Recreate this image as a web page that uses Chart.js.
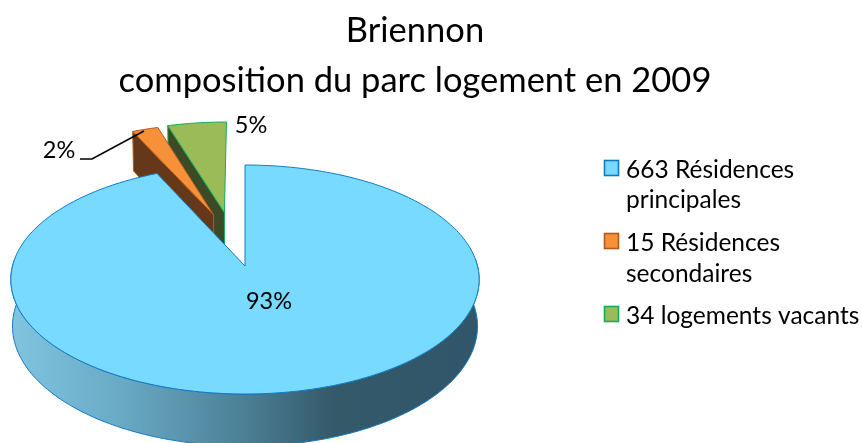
<!DOCTYPE html>
<html><head><meta charset="utf-8">
<style>html,body{margin:0;padding:0;background:#fff}#w{width:862px;height:443px;position:relative}</style>
<script src="https://cdn.jsdelivr.net/npm/chart.js@4"></script>
</head><body><div id="w"><canvas id="c" width="862" height="443"></canvas></div>
<script>
const categories = ['Résidences principales','Résidences secondaires','logements vacants'];
const values = [663,15,34];
const percentLabels = ['93%','2%','5%'];
const titleLines = ['Briennon','composition du parc logement en 2009'];
const legendLines = [['663 Résidences','principales'],['15 Résidences','secondaires'],['34 logements vacants']];
const topColors = ['#78DAFF','#F79139','#9BBB59'];
const edgeColors = ['#1079C4','#B3591C','#0FAF5A'];
const wallColors = ['#33586A','#66381A','#3C4A25'];
const explodeAmount = [0,0.5,0.51];
const explodeDir = [0,-16.6,-10.6];
const FONT = 'Lato, Carlito, sans-serif';

// perspective of the tilted pie
const P = {x:245,y:266,R:232.5,H:112.9,k:0.118,D:46,bx:0.993};
function proj(u,v,low){
  const w = 1+P.k*v;
  const X = P.x+P.R*u/w*(low?P.bx:1);
  const Y = P.y-P.H*v/w+(low?P.D/w:0);
  return [X,Y];
}
function trace(ctx,pts){pts.forEach((p,i)=>i?ctx.lineTo(p[0],p[1]):ctx.moveTo(p[0],p[1]));}
function arcPts(a0,a1,ox,oy,low){
  const n=Math.max(2,Math.ceil(Math.abs(a1-a0)/0.02)),out=[];
  for(let i=0;i<=n;i++){const a=a0+(a1-a0)*i/n;out.push(proj(ox+Math.cos(a),oy-Math.sin(a),low));}
  return out;
}
const pie3d = {
  id:'pie3d',
  beforeDatasetsDraw(chart){
    const ctx=chart.ctx, els=chart.getDatasetMeta(0).data;
    ctx.save();ctx.lineJoin='round';
    // back to front: green, orange, blue
    [2,1,0].forEach(i=>{
      const el=els[i],a0=el.startAngle,a1=el.endAngle;
      const d=(explodeDir[i]-90)*Math.PI/180,e=explodeAmount[i];
      const ox=e*Math.cos(d),oy=-e*Math.sin(d);
      const fill=el.options.backgroundColor,edge=el.options.borderColor;
      const apex=proj(ox,oy),apexL=proj(ox,oy,true);
      if(i===0){
        // front wall, from right extreme to left extreme through the bottom
        const s=-0.02*Math.PI,t=1.02*Math.PI;
        const up=arcPts(s,t,0,0,false),lo=arcPts(t,s,0,0,true);
        const g=ctx.createLinearGradient(13,0,478,0);
        g.addColorStop(0,'#80C4DF');g.addColorStop(0.23,'#69AAC5');g.addColorStop(0.5,'#4B7F95');
        g.addColorStop(0.69,'#345969');g.addColorStop(1,'#31566A');
        ctx.beginPath();trace(ctx,up);lo.forEach(p=>ctx.lineTo(p[0],p[1]));ctx.closePath();
        ctx.fillStyle=g;ctx.fill();ctx.strokeStyle=edge;ctx.lineWidth=1;ctx.stroke();
      } else {
        const c=proj(ox+Math.cos(a0),oy-Math.sin(a0)),cL=proj(ox+Math.cos(a0),oy-Math.sin(a0),true);
        ctx.beginPath();trace(ctx,[c,apex,apexL,cL]);ctx.closePath();
        ctx.fillStyle=wallColors[i];ctx.fill();ctx.strokeStyle=edge;ctx.lineWidth=1;ctx.stroke();
      }
      ctx.beginPath();ctx.moveTo(apex[0],apex[1]);
      arcPts(a0,a1,ox,oy,false).forEach(p=>ctx.lineTo(p[0],p[1]));
      ctx.closePath();ctx.fillStyle=fill;ctx.fill();
      ctx.strokeStyle=edge;ctx.lineWidth=1;ctx.stroke();
    });
    ctx.restore();
    return false;
  },
  afterDraw(chart){
    const ctx=chart.ctx;ctx.save();
    ctx.fillStyle='#000';ctx.textBaseline='middle';ctx.textAlign='center';
    ctx.font='23.5px '+FONT;
    ctx.fillText(percentLabels[0],269,301);
    ctx.fillText(percentLabels[1],59,150);
    ctx.fillText(percentLabels[2],251,125);
    ctx.strokeStyle='#000';ctx.lineWidth=1.6;
    ctx.beginPath();ctx.moveTo(80,159);ctx.lineTo(92,159);ctx.lineTo(144,131);ctx.stroke();
    // legend
    const rows=[[170,200],[243,274],[316]];
    ctx.textAlign='left';
    ctx.font='24.5px '+FONT;
    legendLines.forEach((lines,i)=>{
      const y0=rows[i][0];
      ctx.fillStyle=topColors[i];ctx.fillRect(604.5,y0-9.5,14,15);
      ctx.strokeStyle=edgeColors[i];ctx.lineWidth=1.6;ctx.strokeRect(604.5,y0-9.5,14,15);
      ctx.fillStyle='#000';
      lines.forEach((t,j)=>ctx.fillText(t,626,rows[i][j]));
    });
    ctx.restore();
  }
};
new Chart(document.getElementById('c'),{
  type:'pie',
  data:{labels:categories,datasets:[{data:values,backgroundColor:topColors,borderColor:edgeColors,borderWidth:1}]},
  options:{
    responsive:false,animation:false,events:[],rotation:0,
    layout:{padding:{right:32,top:6}},
    plugins:{
      legend:{display:false},tooltip:{enabled:false},
      title:{display:true,text:titleLines,color:'#000',font:{family:FONT,size:34.5,weight:'normal',lineHeight:1.44},padding:{top:0,bottom:0}}
    }
  },
  plugins:[pie3d]
});
</script></body></html>
